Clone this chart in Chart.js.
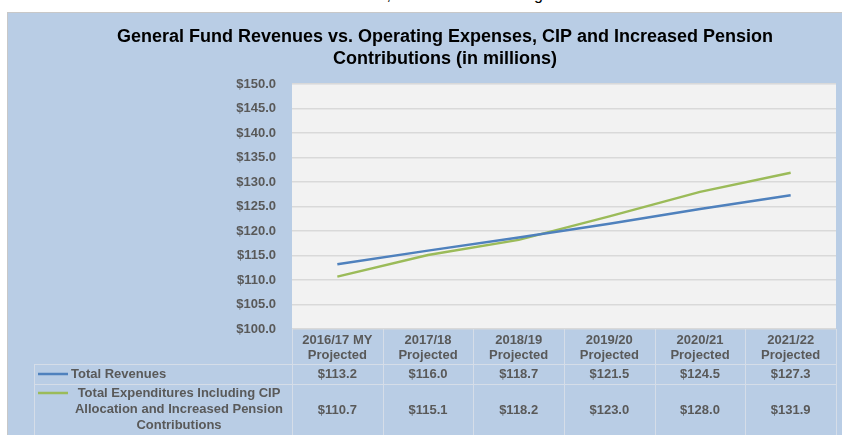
<!DOCTYPE html>
<html>
<head>
<meta charset="utf-8">
<script src="https://cdn.jsdelivr.net/npm/chart.js@4.4.1/dist/chart.umd.min.js"></script>
<style>
  html, body { margin: 0; padding: 0; background: #fff; width: 842px; height: 435px; overflow: hidden; }
  .cut { position: absolute; top: -13px; font: 16px "Liberation Sans", Arial, sans-serif; line-height: 16px; white-space: pre; color: #000; }
  #panel { position: absolute; left: 7px; top: 12px; width: 875px; height: 424px; background: #B9CDE5;
           border-left: 1px solid #C8C8C8; border-top: 1px solid #C8C8C8; }
  canvas { display: block; }
</style>
</head>
<body>
<span class="cut" style="right: 451px;">as reflected below,</span>
<span class="cut" style="right: 299px;">which is alarming</span>
<div id="panel"><canvas id="myChart" width="874" height="423"></canvas></div>
<script>
const categories = [
  ['2016/17 MY', 'Projected'],
  ['2017/18', 'Projected'],
  ['2018/19', 'Projected'],
  ['2019/20', 'Projected'],
  ['2020/21', 'Projected'],
  ['2021/22', 'Projected']
];
const revenues = [113.2, 116.0, 118.7, 121.5, 124.5, 127.3];
const expenditures = [110.7, 115.1, 118.2, 123.0, 128.0, 131.9];
const seriesNames = [
  ['Total Revenues'],
  ['Total Expenditures Including CIP', 'Allocation and Increased Pension', 'Contributions']
];
const yMin = 100, yMax = 150, yStep = 5;

const FONT = '"Liberation Sans", Arial, sans-serif';
const GREY = '#595959';
const BLUE = '#4F81BD';
const GREEN = '#9BBB59';

// plot area fill
const plotBg = {
  id: 'plotBg',
  beforeDraw(chart) {
    const a = chart.chartArea, c = chart.ctx;
    c.save();
    c.fillStyle = '#F2F2F2';
    c.fillRect(a.left, a.top, a.right - a.left, a.bottom - a.top);
    c.restore();
  }
};

// data table under the x axis
const dataTable = {
  id: 'dataTable',
  afterDraw(chart) {
    const a = chart.chartArea, c = chart.ctx, x = chart.scales.x;
    const colW = (a.right - a.left) / categories.length;
    const row1Top = a.bottom + 35, row2Top = row1Top + 20, bottom = chart.height;
    const legendLeft = 26;
    c.save();
    c.strokeStyle = '#D5DDE8';
    c.lineWidth = 1;
    c.beginPath();
    for (let i = 0; i <= categories.length; i++) {
      const px = Math.round(a.left + i * colW) + 0.5;
      c.moveTo(px, a.bottom); c.lineTo(px, bottom);
    }
    c.moveTo(legendLeft + 0.5, row1Top); c.lineTo(legendLeft + 0.5, bottom);
    c.moveTo(legendLeft, row1Top + 0.5); c.lineTo(a.right, row1Top + 0.5);
    c.moveTo(legendLeft, row2Top + 0.5); c.lineTo(a.right, row2Top + 0.5);
    c.stroke();

    c.fillStyle = GREY;
    c.font = 'bold 13px ' + FONT;
    c.textBaseline = 'middle';

    // row 1
    const r1y = row1Top + 10;
    c.strokeStyle = BLUE; c.lineWidth = 2.5;
    c.beginPath(); c.moveTo(30, r1y); c.lineTo(60, r1y); c.stroke();
    c.textAlign = 'left';
    c.fillText(seriesNames[0][0], 63, r1y);
    c.textAlign = 'center';
    revenues.forEach((v, i) => c.fillText('$' + v.toFixed(1), x.getPixelForValue(i), r1y));

    // row 2
    const r2y = row2Top + 26;
    c.strokeStyle = GREEN;
    c.beginPath(); c.moveTo(30, row2Top + 9); c.lineTo(60, row2Top + 9); c.stroke();
    seriesNames[1].forEach((t, k) => c.fillText(t, 171, row2Top + 9 + k * 16));
    expenditures.forEach((v, i) => c.fillText('$' + v.toFixed(1), x.getPixelForValue(i), r2y));
    c.restore();
  }
};

const ctx = document.getElementById('myChart');
const myChart = new Chart(ctx, {
  type: 'line',
  data: {
    labels: categories,
    datasets: [{
      label: 'Total Revenues',
      data: revenues,
      borderColor: BLUE,
      backgroundColor: BLUE
    }, {
      label: 'Total Expenditures Including CIP Allocation and Increased Pension Contributions',
      data: expenditures,
      borderColor: GREEN,
      backgroundColor: GREEN
    }]
  },
  options: {
    responsive: false,
    animation: false,
    devicePixelRatio: 1,
    layout: { padding: 0 },
    elements: {
      line: { borderWidth: 2.5, tension: 0 },
      point: { radius: 0 }
    },
    plugins: {
      legend: { display: false },
      tooltip: { enabled: false },
      title: {
        display: true,
        text: ['General Fund Revenues vs. Operating Expenses, CIP and Increased Pension', 'Contributions (in millions)'],
        color: '#000',
        font: { family: FONT, size: 18, weight: 'bold', lineHeight: 1.17 },
        padding: { top: 14, bottom: 15 }
      }
    },
    scales: {
      x: {
        offset: true,
        grid: { display: false, drawTicks: false },
        border: { display: false },
        ticks: { color: GREY, font: { family: FONT, size: 13, weight: 'bold', lineHeight: 1.15 }, padding: 4, maxRotation: 0, autoSkip: false },
        afterFit(s) { s.height = 107; }
      },
      y: {
        min: yMin,
        max: yMax,
        grid: { color: '#D9D9D9', lineWidth: 1.5, drawTicks: false },
        border: { display: false },
        ticks: {
          stepSize: yStep,
          color: GREY,
          font: { family: FONT, size: 13, weight: 'bold' },
          padding: 16,
          callback: v => '$' + v.toFixed(1)
        },
        afterFit(s) { s.width = 284; }
      },
      // empty right-hand strip so the title centres over the full panel
      yRight: {
        position: 'right',
        grid: { display: false, drawTicks: false },
        border: { display: false },
        ticks: { display: false },
        afterFit(s) { s.width = 46; }
      }
    }
  },
  plugins: [plotBg, dataTable]
});
</script>
</body>
</html>
